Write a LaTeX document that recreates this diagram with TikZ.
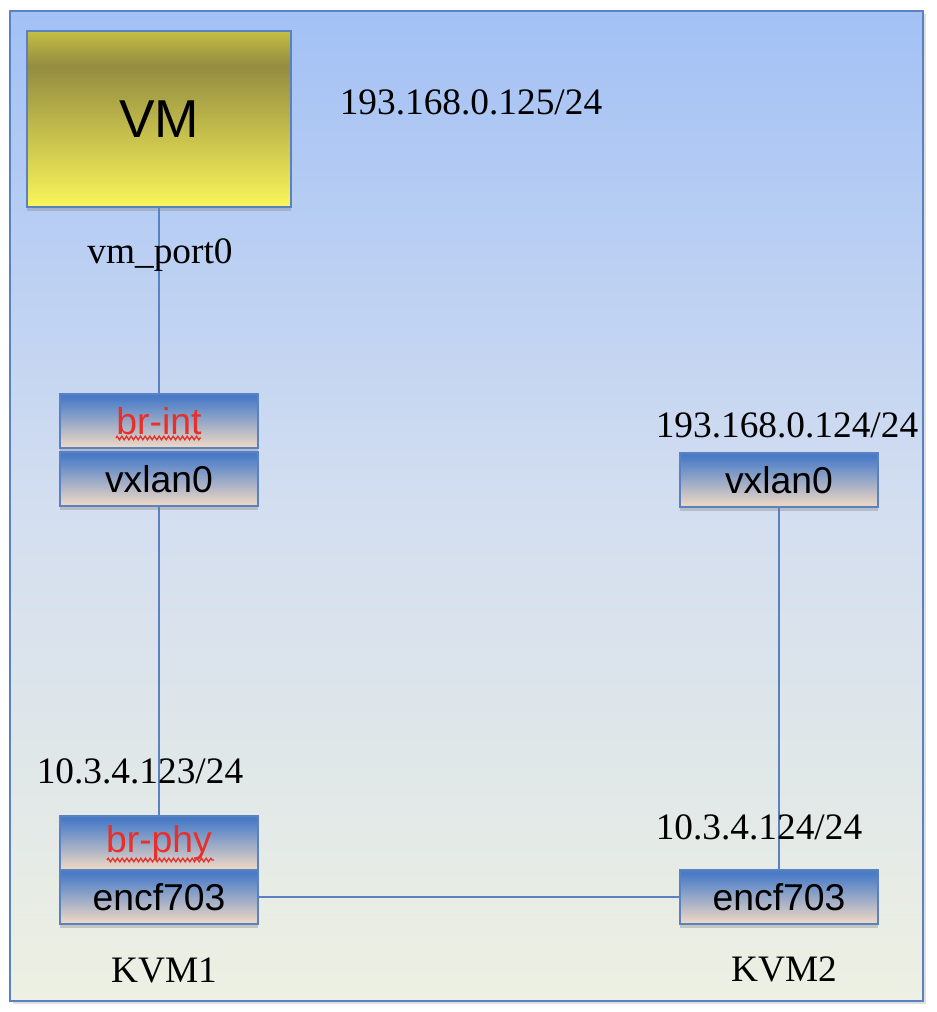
\documentclass[tikz,border=0pt]{standalone}
\usepackage{fontspec}
\setmainfont{Liberation Serif}
\setsansfont{Liberation Sans}
\usetikzlibrary{shadows,decorations.pathmorphing}
\definecolor{framecol}{HTML}{5A82C2}
\definecolor{bgtop}{HTML}{A3C1F5}
\definecolor{bgmid}{HTML}{D3DEF0}
\definecolor{bgbot}{HTML}{EDF0E2}
\definecolor{vmtop}{HTML}{C4BE44}
\definecolor{vmmid}{HTML}{948C40}
\definecolor{vmbot}{HTML}{FAF65A}
\definecolor{boxtop}{HTML}{4A7BC6}
\definecolor{boxmid}{HTML}{6A8FC8}
\definecolor{boxbot}{HTML}{F2DAC4}
\definecolor{redtxt}{HTML}{E8302A}
\pgfdeclareverticalshading{bgshade}{100bp}{color(0bp)=(bgbot); color(25bp)=(bgbot); color(50bp)=(bgmid); color(75bp)=(bgtop); color(100bp)=(bgtop)}
\pgfdeclareverticalshading{vmshade}{100bp}{color(0bp)=(vmbot); color(25bp)=(vmbot); color(65bp)=(vmmid); color(75bp)=(vmtop); color(100bp)=(vmtop)}
\pgfdeclareverticalshading{boxshade}{100bp}{color(0bp)=(boxbot); color(25bp)=(boxbot); color(62bp)=(boxmid); color(72bp)=(boxtop); color(75bp)=(boxtop); color(100bp)=(boxtop)}
\tikzset{
  portbox/.style={draw=framecol, line width=1.8pt, shading=boxshade, minimum width=148.5pt, minimum height=40.5pt, inner sep=0pt, font=\sffamily\fontsize{28}{28}\selectfont, drop shadow={shadow xshift=0pt, shadow yshift=-3pt, opacity=0.35}},
  vmbox/.style={draw=framecol, line width=1.8pt, shading=vmshade, minimum width=198pt, minimum height=132pt, inner sep=0pt, font=\sffamily\fontsize{40}{40}\selectfont, drop shadow={shadow xshift=0pt, shadow yshift=-3pt, opacity=0.35}},
  lbl/.style={inner sep=0pt, font=\rmfamily\fontsize{28}{28}\selectfont},
  conn/.style={draw=framecol, line width=1.8pt},
  squiggle/.style={draw=redtxt, line width=1pt, decorate, decoration={zigzag, segment length=3.5pt, amplitude=1.3pt}},
}
\begin{document}
\begin{tikzpicture}[x=0.75pt, y=-0.75pt]
\useasboundingbox (0,0) rectangle (936,1012);
\fill[white] (0,0) rectangle (936,1012);
\path[shading=bgshade, draw=framecol, line width=2pt, drop shadow={shadow xshift=2pt, shadow yshift=-2pt, opacity=0.25}] (10,11) rectangle (923,1001);
\node[vmbox] (vm) at (159,119) {VM};
\node[portbox] (brint) at (159,421) {\textcolor{redtxt}{br-int}};
\node[portbox] (vxl) at (159,479) {vxlan0};
\node[portbox] (vxr) at (779,480) {vxlan0};
\node[portbox] (brphy) at (159,843) {\textcolor{redtxt}{br-phy}};
\node[portbox] (encl) at (159,897) {encf703};
\node[portbox] (encr) at (779,897) {encf703};
\draw[conn] (vm.south) -- (brint.north);
\draw[conn] (vxl.south) -- (brphy.north);
\draw[conn] (vxr.south) -- (encr.north);
\draw[conn] (encl.east) -- (encr.west);
\coordinate (u1a) at (116,438);
\coordinate (u1b) at (201,438);
\coordinate (u2a) at (107,860);
\coordinate (u2b) at (214,860);
\draw[squiggle] (u1a) -- (u1b);
\draw[squiggle] (u2a) -- (u2b);
\node[lbl] (ip1) at (471,102) {193.168.0.125/24};
\node[lbl] (port) at (160,255) {vm\_port0};
\node[lbl] (ip2) at (787,425) {193.168.0.124/24};
\node[lbl] (ip3) at (140,771) {10.3.4.123/24};
\node[lbl] (ip4) at (759,827) {10.3.4.124/24};
\node[lbl] (kvm1) at (164,970) {KVM1};
\node[lbl] (kvm2) at (784,969) {KVM2};
\end{tikzpicture}
\end{document}
